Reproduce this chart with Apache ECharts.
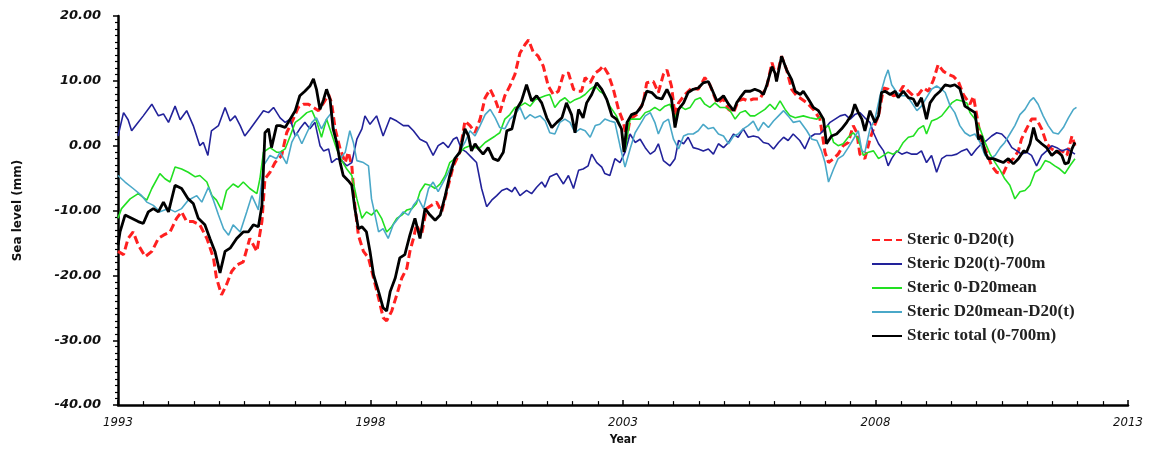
<!DOCTYPE html>
<html><head><meta charset="utf-8">
<script src="https://cdn.jsdelivr.net/npm/echarts@6/dist/echarts.min.js"></script>
<style>html,body{margin:0;padding:0;background:#fff}#c{width:1152px;height:451px}</style>
</head><body><div id="c"></div>
<script>
const seriesNames = ["Steric 0-D20(t)","Steric D20(t)-700m","Steric 0-D20mean","Steric D20mean-D20(t)","Steric total (0-700m)"];
const xTicks = [1993,1998,2003,2008,2013];
const yTicks = [-40,-30,-20,-10,0,10,20];

const red = [[1993.00,-16.3],[1993.11,-16.8],[1993.20,-14.3],[1993.30,-13.3],[1993.40,-15.3],[1993.54,-17.1],[1993.67,-16.3],[1993.80,-14.3],[1993.90,-13.8],[1994.03,-13.3],[1994.16,-11.2],[1994.26,-10.2],[1994.36,-11.7],[1994.49,-11.7],[1994.62,-12.2],[1994.76,-14.3],[1994.89,-17.3],[1994.95,-20.4],[1995.05,-23.0],[1995.15,-21.4],[1995.25,-19.4],[1995.35,-18.4],[1995.48,-17.9],[1995.61,-14.3],[1995.75,-16.3],[1995.85,-11.7],[1995.91,-5.1],[1996.01,-4.1],[1996.11,-2.6],[1996.24,-1.5],[1996.34,2.0],[1996.47,4.1],[1996.57,5.9],[1996.67,6.4],[1996.77,6.4],[1996.87,5.9],[1996.97,5.4],[1997.07,6.6],[1997.17,7.9],[1997.23,6.6],[1997.30,2.6],[1997.40,-0.5],[1997.50,-2.6],[1997.56,-1.0],[1997.63,-3.1],[1997.69,-9.2],[1997.76,-13.8],[1997.86,-16.3],[1997.96,-17.3],[1998.06,-20.4],[1998.16,-23.5],[1998.25,-26.5],[1998.32,-27.0],[1998.42,-25.5],[1998.52,-23.0],[1998.62,-20.4],[1998.72,-18.9],[1998.78,-16.3],[1998.85,-14.3],[1998.91,-12.2],[1999.01,-13.8],[1999.11,-9.7],[1999.21,-9.2],[1999.31,-8.7],[1999.41,-10.2],[1999.51,-7.1],[1999.64,-3.1],[1999.77,-1.0],[1999.87,3.8],[1999.97,3.1],[2000.07,2.0],[2000.17,4.1],[2000.27,7.4],[2000.37,8.7],[2000.47,7.1],[2000.56,5.1],[2000.66,7.7],[2000.76,9.2],[2000.86,11.0],[2000.96,14.3],[2001.06,15.6],[2001.13,16.3],[2001.22,14.5],[2001.32,13.8],[2001.42,12.3],[2001.52,9.2],[2001.62,7.9],[2001.72,8.4],[2001.82,11.0],[2001.92,11.2],[2002.02,8.7],[2002.12,8.4],[2002.18,8.4],[2002.25,10.5],[2002.35,9.7],[2002.45,11.2],[2002.54,11.7],[2002.61,12.3],[2002.71,11.0],[2002.81,8.7],[2002.91,5.6],[2003.01,3.6],[2003.07,1.0],[2003.14,4.1],[2003.27,4.8],[2003.40,6.6],[2003.47,9.7],[2003.60,9.9],[2003.70,8.2],[2003.80,11.0],[2003.87,11.7],[2003.96,9.2],[2004.03,4.6],[2004.10,6.6],[2004.23,7.9],[2004.36,8.9],[2004.49,8.7],[2004.62,10.5],[2004.72,9.4],[2004.86,6.6],[2004.99,7.2],[2005.09,5.6],[2005.19,5.1],[2005.28,6.9],[2005.38,7.2],[2005.48,6.9],[2005.58,7.2],[2005.71,7.2],[2005.85,9.2],[2005.95,12.8],[2006.04,10.5],[2006.14,13.8],[2006.24,11.7],[2006.34,8.7],[2006.44,7.7],[2006.50,7.4],[2006.64,6.6],[2006.77,5.6],[2006.90,4.1],[2007.00,-1.0],[2007.07,-2.6],[2007.17,-2.0],[2007.26,-1.3],[2007.36,0.0],[2007.46,0.5],[2007.56,3.1],[2007.63,2.0],[2007.69,-1.3],[2007.79,-2.0],[2007.89,1.0],[2007.99,3.3],[2008.06,4.6],[2008.16,8.9],[2008.25,8.7],[2008.35,7.7],[2008.45,7.9],[2008.55,9.2],[2008.65,8.4],[2008.75,7.7],[2008.85,7.9],[2008.95,8.9],[2009.05,8.4],[2009.15,10.2],[2009.24,12.5],[2009.34,11.5],[2009.44,11.0],[2009.54,10.7],[2009.64,9.9],[2009.74,7.9],[2009.87,6.4],[2009.94,7.6],[2010.04,3.1],[2010.10,0.5],[2010.20,-1.0],[2010.30,-3.1],[2010.40,-4.1],[2010.53,-4.3],[2010.63,-2.6],[2010.73,-2.0],[2010.83,-0.8],[2010.89,1.0],[2010.99,2.6],[2011.09,4.1],[2011.19,4.1],[2011.29,2.6],[2011.39,0.3],[2011.49,-0.5],[2011.59,-1.0],[2011.69,-0.8],[2011.79,-1.5],[2011.89,1.5],[2011.95,0.0]];

const blue = [[1993.00,1.5],[1993.11,5.1],[1993.20,4.0],[1993.27,2.3],[1993.37,3.3],[1993.50,4.6],[1993.67,6.4],[1993.80,4.6],[1993.90,4.9],[1994.00,3.6],[1994.13,6.1],[1994.23,4.0],[1994.36,5.4],[1994.49,3.1],[1994.62,0.0],[1994.69,0.5],[1994.78,-1.5],[1994.85,2.3],[1994.99,3.1],[1995.12,5.9],[1995.22,3.8],[1995.32,4.6],[1995.42,3.1],[1995.51,1.5],[1995.61,2.5],[1995.75,4.0],[1995.88,5.4],[1995.98,5.1],[1996.08,5.9],[1996.21,4.3],[1996.31,3.6],[1996.41,4.1],[1996.51,1.5],[1996.60,2.6],[1996.70,3.6],[1996.80,2.6],[1996.90,3.6],[1997.00,0.0],[1997.07,-0.8],[1997.17,-0.5],[1997.23,-2.6],[1997.33,-2.0],[1997.43,-2.3],[1997.53,-3.1],[1997.63,-2.6],[1997.73,1.0],[1997.83,2.6],[1997.89,4.6],[1997.99,3.3],[1998.12,4.6],[1998.25,1.5],[1998.39,4.3],[1998.52,3.8],[1998.65,3.1],[1998.75,3.1],[1998.85,2.3],[1998.98,1.0],[1999.11,0.5],[1999.24,-1.5],[1999.34,0.0],[1999.44,0.5],[1999.54,-0.3],[1999.64,1.0],[1999.71,1.3],[1999.80,-0.5],[1999.90,-1.0],[2000.00,-1.8],[2000.10,-2.6],[2000.20,-6.6],[2000.30,-9.4],[2000.40,-8.4],[2000.50,-7.7],[2000.60,-6.9],[2000.70,-6.6],[2000.80,-7.1],[2000.86,-6.4],[2000.96,-7.7],[2001.09,-6.9],[2001.19,-7.4],[2001.29,-6.4],[2001.39,-5.6],[2001.46,-6.4],[2001.55,-4.8],[2001.69,-4.3],[2001.82,-5.9],[2001.92,-4.6],[2002.02,-6.6],[2002.12,-3.8],[2002.21,-3.6],[2002.31,-3.1],[2002.38,-1.3],[2002.48,-2.6],[2002.58,-3.3],[2002.64,-4.3],[2002.74,-4.6],[2002.84,-2.0],[2002.94,-2.6],[2003.04,-1.0],[2003.14,1.8],[2003.24,0.5],[2003.34,1.0],[2003.44,-0.3],[2003.54,-1.3],[2003.63,-0.8],[2003.70,0.3],[2003.80,-2.3],[2003.93,-3.1],[2004.03,-2.0],[2004.10,0.8],[2004.20,0.3],[2004.29,1.3],[2004.39,-0.3],[2004.49,-0.5],[2004.59,-0.8],[2004.69,-0.5],[2004.79,-1.3],[2004.89,0.3],[2004.99,-0.3],[2005.09,0.5],[2005.19,1.8],[2005.28,1.3],[2005.38,2.6],[2005.48,1.3],[2005.58,1.5],[2005.68,1.3],[2005.78,0.5],[2005.88,0.3],[2005.98,-0.5],[2006.08,0.5],[2006.18,1.3],[2006.27,0.8],[2006.37,1.8],[2006.50,0.8],[2006.60,-0.5],[2006.70,1.3],[2006.80,1.8],[2006.90,1.8],[2007.00,2.6],[2007.10,3.6],[2007.20,4.1],[2007.30,4.6],[2007.40,4.8],[2007.50,4.1],[2007.59,4.8],[2007.69,5.1],[2007.79,4.3],[2007.89,3.6],[2007.96,2.0],[2008.06,0.3],[2008.16,-0.8],[2008.25,-3.1],[2008.32,-2.0],[2008.42,-0.8],[2008.52,-1.3],[2008.62,-1.0],[2008.72,-1.3],[2008.82,-1.3],[2008.91,-0.8],[2009.01,-2.6],[2009.11,-1.5],[2009.21,-4.1],[2009.31,-2.0],[2009.41,-1.5],[2009.51,-1.5],[2009.61,-1.3],[2009.71,-0.8],[2009.81,-0.5],[2009.90,-1.5],[2010.00,-0.5],[2010.10,0.3],[2010.20,0.8],[2010.30,1.5],[2010.40,2.0],[2010.50,1.8],[2010.60,1.0],[2010.70,-0.3],[2010.80,-0.8],[2010.89,-1.3],[2010.99,-1.0],[2011.09,-1.5],[2011.19,-3.1],[2011.29,-1.5],[2011.39,-0.8],[2011.49,0.0],[2011.59,-0.3],[2011.69,-0.8],[2011.79,-0.5],[2011.89,-1.0],[2011.95,-1.3]];

const green = [[1993.00,-11.2],[1993.07,-9.7],[1993.24,-8.2],[1993.40,-7.4],[1993.57,-8.4],[1993.67,-6.6],[1993.83,-4.3],[1993.93,-5.1],[1994.03,-5.6],[1994.13,-3.3],[1994.26,-3.6],[1994.39,-4.1],[1994.53,-4.8],[1994.62,-4.6],[1994.76,-5.6],[1994.86,-7.7],[1994.95,-8.4],[1995.05,-9.9],[1995.15,-6.9],[1995.28,-5.9],[1995.38,-6.4],[1995.48,-5.6],[1995.61,-6.6],[1995.75,-7.4],[1995.81,-5.1],[1995.88,-1.0],[1996.01,-0.3],[1996.14,-1.0],[1996.21,-1.0],[1996.31,-0.5],[1996.41,1.5],[1996.51,3.6],[1996.60,4.1],[1996.74,5.1],[1996.84,5.4],[1996.93,3.8],[1997.03,1.3],[1997.13,4.1],[1997.23,1.8],[1997.33,-0.5],[1997.43,-2.3],[1997.53,-3.6],[1997.63,-4.6],[1997.73,-8.2],[1997.83,-11.2],[1997.92,-10.2],[1998.02,-10.7],[1998.12,-9.9],[1998.22,-11.2],[1998.32,-13.3],[1998.42,-12.5],[1998.52,-11.2],[1998.62,-10.7],[1998.72,-9.9],[1998.82,-9.7],[1998.91,-8.9],[1998.98,-7.1],[1999.08,-5.9],[1999.18,-6.1],[1999.28,-6.6],[1999.38,-5.9],[1999.48,-4.6],[1999.57,-2.6],[1999.67,-2.0],[1999.77,-1.0],[1999.87,-0.3],[1999.97,0.0],[2000.07,-0.3],[2000.17,-0.3],[2000.27,0.5],[2000.37,1.0],[2000.47,1.5],[2000.56,2.0],[2000.66,4.1],[2000.76,4.8],[2000.86,5.9],[2000.96,6.1],[2001.06,6.6],[2001.16,6.1],[2001.26,7.1],[2001.36,7.4],[2001.46,7.7],[2001.55,7.9],[2001.65,5.9],[2001.75,6.9],[2001.85,7.4],[2001.95,6.6],[2002.05,7.1],[2002.15,7.4],[2002.25,7.9],[2002.35,8.7],[2002.45,9.2],[2002.54,8.4],[2002.64,7.9],[2002.74,6.1],[2002.87,4.6],[2002.97,2.6],[2003.04,-0.8],[2003.14,4.1],[2003.24,4.1],[2003.34,4.1],[2003.44,5.1],[2003.54,5.4],[2003.63,5.9],[2003.73,5.4],[2003.83,6.1],[2003.93,6.4],[2004.03,4.3],[2004.13,6.1],[2004.23,5.6],[2004.33,5.9],[2004.43,7.1],[2004.53,7.4],[2004.62,6.4],[2004.72,5.9],[2004.82,6.6],[2004.92,5.9],[2005.02,5.9],[2005.12,5.4],[2005.22,4.1],[2005.32,5.1],[2005.42,5.4],[2005.52,4.6],[2005.61,4.6],[2005.71,5.1],[2005.81,5.6],[2005.91,6.4],[2006.01,5.6],[2006.11,6.9],[2006.21,5.6],[2006.31,4.6],[2006.41,4.3],[2006.57,4.6],[2006.70,4.3],[2006.84,4.1],[2006.93,4.6],[2007.00,2.8],[2007.07,3.1],[2007.17,0.5],[2007.26,0.0],[2007.36,0.3],[2007.46,1.3],[2007.56,2.0],[2007.66,1.0],[2007.76,-1.5],[2007.86,-1.0],[2007.96,-0.8],[2008.06,-2.0],[2008.16,-1.5],[2008.25,-1.0],[2008.35,-1.3],[2008.45,-0.8],[2008.55,0.5],[2008.65,1.3],[2008.75,1.5],[2008.85,2.6],[2008.95,3.1],[2009.01,1.8],[2009.11,3.8],[2009.21,4.1],[2009.31,4.6],[2009.41,5.6],[2009.51,6.6],[2009.61,7.1],[2009.71,6.9],[2009.81,6.6],[2009.87,5.1],[2009.97,4.1],[2010.07,2.6],[2010.17,0.5],[2010.27,-1.3],[2010.37,-2.6],[2010.47,-3.8],[2010.56,-5.1],[2010.66,-6.1],[2010.76,-8.2],[2010.86,-7.1],[2010.96,-6.9],[2011.06,-6.1],[2011.16,-4.1],[2011.26,-3.6],[2011.36,-2.3],[2011.46,-2.6],[2011.55,-3.1],[2011.65,-3.6],[2011.75,-4.3],[2011.85,-3.1],[2011.95,-2.0]];

const cyan = [[1993.00,-4.6],[1993.14,-5.6],[1993.30,-6.6],[1993.47,-7.7],[1993.57,-8.7],[1993.70,-9.2],[1993.83,-10.2],[1994.00,-9.7],[1994.13,-10.2],[1994.26,-9.7],[1994.39,-8.4],[1994.56,-7.7],[1994.66,-8.7],[1994.79,-6.4],[1994.89,-8.4],[1994.99,-10.7],[1995.09,-12.8],[1995.19,-13.8],[1995.28,-12.2],[1995.42,-13.3],[1995.55,-10.2],[1995.65,-7.7],[1995.78,-9.9],[1995.88,-3.1],[1996.01,-1.5],[1996.14,-2.0],[1996.21,-1.0],[1996.34,-2.8],[1996.44,0.5],[1996.54,2.0],[1996.64,0.3],[1996.74,2.0],[1996.84,3.6],[1996.93,4.3],[1997.03,2.6],[1997.13,4.1],[1997.23,5.1],[1997.30,1.5],[1997.40,-2.0],[1997.50,-1.0],[1997.59,2.3],[1997.66,0.5],[1997.73,-2.3],[1997.86,-2.6],[1997.96,-3.1],[1998.02,-8.2],[1998.09,-10.7],[1998.16,-13.3],[1998.25,-12.8],[1998.35,-14.3],[1998.45,-12.2],[1998.55,-11.2],[1998.65,-10.2],[1998.75,-10.7],[1998.85,-9.2],[1998.95,-8.2],[1999.05,-9.7],[1999.15,-6.6],[1999.24,-5.6],[1999.34,-7.1],[1999.44,-5.6],[1999.54,-4.1],[1999.67,-2.0],[1999.77,-0.8],[1999.87,0.5],[1999.97,2.3],[2000.07,1.5],[2000.17,3.1],[2000.27,4.8],[2000.37,5.6],[2000.47,4.3],[2000.56,2.8],[2000.66,2.6],[2000.76,4.1],[2000.86,4.8],[2000.96,5.9],[2001.06,4.1],[2001.16,4.8],[2001.26,4.3],[2001.36,4.6],[2001.46,3.8],[2001.55,2.0],[2001.65,1.8],[2001.75,3.6],[2001.85,4.1],[2001.95,3.6],[2002.05,2.0],[2002.15,2.6],[2002.25,2.3],[2002.35,1.3],[2002.45,3.1],[2002.54,3.3],[2002.64,4.1],[2002.74,3.8],[2002.84,3.6],[2002.94,0.0],[2003.04,-3.3],[2003.14,-0.5],[2003.24,2.0],[2003.34,3.3],[2003.44,4.6],[2003.54,5.1],[2003.63,3.6],[2003.70,1.8],[2003.80,3.6],[2003.90,4.1],[2004.00,1.0],[2004.10,-0.5],[2004.20,1.5],[2004.29,1.8],[2004.39,1.8],[2004.49,2.3],[2004.59,3.3],[2004.69,2.6],[2004.79,2.8],[2004.89,1.8],[2004.99,1.5],[2005.09,0.3],[2005.19,1.5],[2005.28,1.8],[2005.38,2.6],[2005.48,3.1],[2005.58,3.8],[2005.68,2.3],[2005.78,3.6],[2005.88,2.8],[2005.98,3.8],[2006.08,4.6],[2006.18,5.4],[2006.27,4.6],[2006.37,3.6],[2006.50,3.8],[2006.64,2.3],[2006.74,1.0],[2006.84,0.8],[2006.93,-0.8],[2007.00,-2.6],[2007.07,-5.6],[2007.17,-3.6],[2007.26,-2.0],[2007.36,-1.5],[2007.46,-0.3],[2007.56,1.0],[2007.66,2.3],[2007.73,-0.8],[2007.79,-1.0],[2007.89,2.6],[2007.99,4.1],[2008.09,7.7],[2008.19,10.5],[2008.25,11.7],[2008.32,9.4],[2008.42,8.2],[2008.52,7.7],[2008.62,7.7],[2008.72,6.6],[2008.82,5.4],[2008.91,6.1],[2009.01,7.4],[2009.11,8.7],[2009.21,9.2],[2009.31,8.7],[2009.38,8.2],[2009.48,6.1],[2009.57,5.1],[2009.67,3.1],[2009.77,2.0],[2009.87,1.5],[2009.97,1.8],[2010.07,0.5],[2010.17,-1.5],[2010.27,-2.0],[2010.37,-1.5],[2010.47,-0.3],[2010.56,0.5],[2010.66,1.8],[2010.76,3.1],[2010.86,4.8],[2010.96,5.6],[2011.06,6.9],[2011.13,7.4],[2011.22,6.4],[2011.32,4.6],[2011.42,3.1],[2011.52,2.0],[2011.62,1.8],[2011.72,2.8],[2011.82,4.3],[2011.92,5.6],[2011.98,5.9]];

const black = [[1993.00,-15.3],[1993.04,-13.3],[1993.14,-10.7],[1993.27,-11.2],[1993.40,-11.7],[1993.50,-12.0],[1993.60,-10.2],[1993.70,-9.7],[1993.80,-10.2],[1993.90,-8.7],[1994.00,-10.2],[1994.13,-6.1],[1994.26,-6.6],[1994.39,-8.2],[1994.49,-8.9],[1994.59,-11.2],[1994.72,-12.2],[1994.82,-14.3],[1994.92,-16.3],[1995.02,-19.6],[1995.12,-16.3],[1995.22,-15.8],[1995.35,-14.3],[1995.48,-13.3],[1995.58,-13.3],[1995.68,-12.2],[1995.78,-12.5],[1995.85,-9.2],[1995.91,2.0],[1995.98,2.6],[1996.04,-0.3],[1996.14,3.1],[1996.21,3.1],[1996.31,2.8],[1996.41,4.1],[1996.51,5.4],[1996.60,7.7],[1996.70,8.4],[1996.80,9.2],[1996.87,10.3],[1996.93,8.7],[1997.00,5.6],[1997.07,7.1],[1997.13,8.7],[1997.20,7.1],[1997.26,2.6],[1997.33,0.5],[1997.40,-2.6],[1997.46,-4.6],[1997.56,-5.4],[1997.63,-6.1],[1997.69,-9.7],[1997.76,-12.8],[1997.83,-12.5],[1997.92,-13.3],[1997.99,-16.3],[1998.06,-19.9],[1998.16,-22.5],[1998.25,-25.0],[1998.32,-25.5],[1998.39,-22.5],[1998.49,-20.4],[1998.58,-17.3],[1998.68,-16.8],[1998.78,-13.8],[1998.88,-11.2],[1998.98,-14.3],[1999.08,-9.7],[1999.18,-10.7],[1999.28,-11.5],[1999.38,-10.7],[1999.48,-7.7],[1999.57,-4.6],[1999.67,-2.0],[1999.77,-1.0],[1999.87,2.6],[1999.94,1.5],[2000.00,-0.8],[2000.07,0.3],[2000.14,-0.5],[2000.23,-1.3],[2000.33,-0.3],[2000.43,-2.0],[2000.53,-2.3],[2000.63,-1.0],[2000.70,2.3],[2000.80,2.6],[2000.89,5.6],[2000.99,6.9],[2001.09,9.4],[2001.19,6.9],[2001.29,7.7],[2001.39,6.6],[2001.49,4.3],[2001.59,2.8],[2001.69,3.6],[2001.79,4.3],[2001.88,6.6],[2001.98,4.8],[2002.05,2.0],[2002.12,5.6],[2002.21,4.3],[2002.28,6.6],[2002.38,7.9],[2002.48,9.7],[2002.58,8.7],[2002.68,7.1],[2002.78,4.6],[2002.87,4.1],[2002.97,2.6],[2003.02,-1.0],[2003.08,3.6],[2003.17,4.8],[2003.27,5.1],[2003.37,6.1],[2003.47,8.4],[2003.57,8.2],[2003.67,7.4],[2003.77,7.2],[2003.87,8.7],[2003.96,7.2],[2004.03,2.8],[2004.10,5.6],[2004.20,6.6],[2004.29,8.2],[2004.39,8.7],[2004.49,8.9],[2004.59,9.7],[2004.69,9.9],[2004.76,8.7],[2004.86,6.9],[2004.92,7.2],[2004.99,7.7],[2005.09,6.4],[2005.19,5.4],[2005.25,6.6],[2005.32,7.4],[2005.42,8.4],[2005.52,8.4],[2005.61,8.7],[2005.71,8.4],[2005.78,7.9],[2005.85,9.4],[2005.95,12.2],[2006.01,11.2],[2006.04,9.9],[2006.14,13.8],[2006.24,11.7],[2006.34,10.2],[2006.41,8.4],[2006.51,7.9],[2006.57,8.4],[2006.67,7.2],[2006.77,5.9],[2006.87,5.4],[2006.97,4.1],[2007.03,0.3],[2007.13,1.5],[2007.23,1.8],[2007.33,2.6],[2007.43,3.6],[2007.53,4.8],[2007.59,6.4],[2007.66,5.1],[2007.73,4.1],[2007.79,2.3],[2007.89,5.4],[2007.99,3.6],[2008.06,4.6],[2008.12,8.2],[2008.19,8.4],[2008.29,7.9],[2008.39,8.4],[2008.45,7.4],[2008.55,8.4],[2008.65,7.4],[2008.75,7.2],[2008.82,6.1],[2008.91,7.4],[2009.01,4.1],[2009.08,6.6],[2009.18,7.7],[2009.28,8.4],[2009.38,9.4],[2009.48,9.2],[2009.57,9.4],[2009.67,8.8],[2009.77,6.1],[2009.87,5.6],[2009.97,5.1],[2010.04,1.0],[2010.10,1.5],[2010.17,-1.0],[2010.23,-2.0],[2010.33,-2.0],[2010.43,-2.3],[2010.53,-2.6],[2010.63,-2.0],[2010.73,-2.8],[2010.83,-2.0],[2010.93,-0.8],[2010.99,-1.0],[2011.06,0.3],[2011.13,2.8],[2011.19,1.0],[2011.29,0.3],[2011.39,-0.3],[2011.49,-1.5],[2011.59,-0.8],[2011.69,-1.5],[2011.75,-2.8],[2011.82,-2.6],[2011.89,-0.5],[2011.95,0.5]];

const chart = echarts.init(document.getElementById('c'), null, {renderer:'canvas'});
const seriesData = [red, blue, green, cyan, black];
const colors = ['#ff2020', '#22229a', '#22e022', '#4aa8c8', '#000000'];
const widths = [3, 1.6, 1.6, 1.6, 2.8];

chart.setOption({
  animation: false,
  backgroundColor: '#ffffff',
  grid: {left: 118, right: 24, top: 16, bottom: 43, containLabel: false},
  legend: {
    show: true,
    orient: 'vertical', left: 866, top: 226, itemGap: 6, itemWidth: 30, itemHeight: 14,
    data: seriesNames,
    itemStyle: {color: 'rgba(0,0,0,0)', borderWidth: 0, opacity: 0},
    textStyle: {fontFamily: 'Liberation Serif', fontWeight: 'bold', fontSize: 17, lineHeight: 18, color: '#222'}
  },
  xAxis: {
    type: 'value', min: xTicks[0], max: xTicks[xTicks.length-1], interval: 5,
    name: 'Year', nameLocation: 'middle', nameGap: 27,
    nameTextStyle: {fontFamily: 'DejaVu Sans Condensed', fontWeight: 'bold', fontSize: 12, color: '#111'},
    axisLine: {onZero: false, lineStyle: {color: '#000', width: 2.5}},
    axisTick: {show: true, length: 5, inside: true, lineStyle: {color: '#000', width: 1.5}},
    minorTick: {show: true, splitNumber: 10, length: 4, lineStyle: {color: '#000', width: 1.2}},
    splitLine: {show: false},
    axisLabel: {margin: 11, fontFamily: 'DejaVu Sans Condensed', fontStyle: 'italic', fontSize: 13, color: '#111',
      formatter: v => String(Math.round(v))}
  },
  yAxis: {
    type: 'value', min: yTicks[0], max: yTicks[yTicks.length-1], interval: 10,
    name: 'Sea level (mm)', nameLocation: 'middle', nameGap: 94, nameRotate: 90,
    nameTextStyle: {fontFamily: 'DejaVu Sans', fontWeight: 'bold', fontSize: 12, color: '#111'},
    axisLine: {show: true, onZero: false, lineStyle: {color: '#000', width: 2.5}},
    axisTick: {show: true, length: 5, inside: false, lineStyle: {color: '#000', width: 1.5}},
    minorTick: {show: true, splitNumber: 10, length: 3, lineStyle: {color: '#000', width: 1.2}},
    splitLine: {show: false},
    axisLabel: {margin: 17, fontFamily: 'DejaVu Sans', fontStyle: 'italic', fontWeight: 'bold', fontSize: 13, color: '#111',
      formatter: v => v.toFixed(2)}
  },
  series: seriesNames.map((n, i) => ({
    name: n, type: 'line', data: seriesData[i], showSymbol: false, symbol: 'none',
    z: 2 + i,
    lineStyle: {color: colors[i], width: widths[i], type: i === 0 ? [8, 4] : 'solid'},
    itemStyle: {color: colors[i]}
  }))
});
</script>
</body></html>
